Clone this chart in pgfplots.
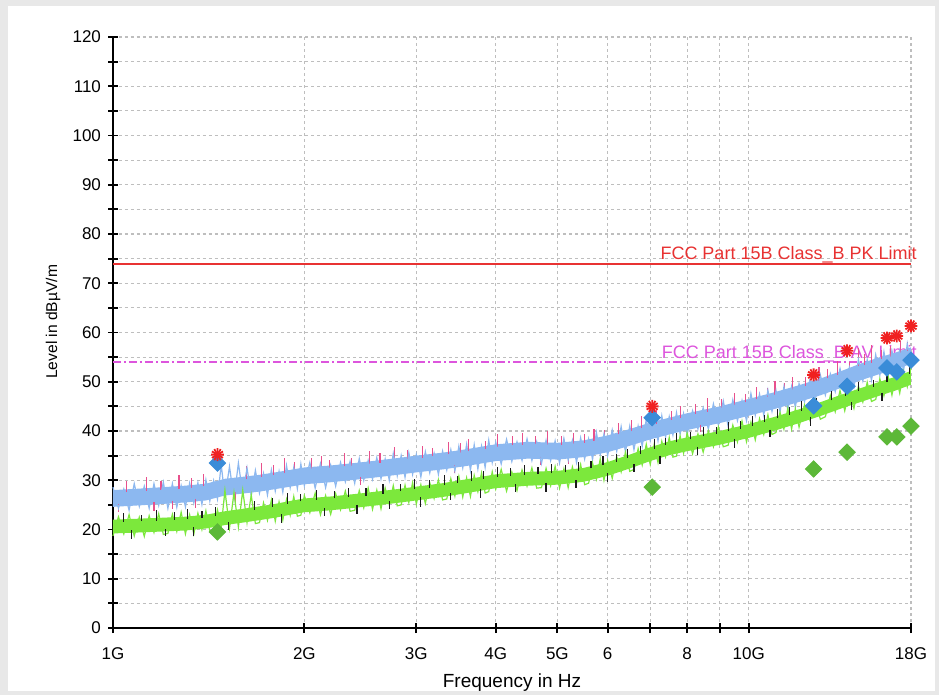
\documentclass[border=0pt]{standalone}
\usepackage{pgfplots}
\usepackage{pgfplotstable}
\pgfplotsset{compat=1.18}
\usepackage{fontspec}
\setmainfont{Liberation Sans}

\definecolor{pkred}{HTML}{E83232}
\definecolor{avmag}{HTML}{DD55DD}
\definecolor{bandblue}{HTML}{8CB8F0}
\definecolor{pinkpk}{HTML}{E8508C}
\definecolor{bandgreen}{HTML}{7CE83C}
\definecolor{spikeblack}{HTML}{1A1A1A}
\definecolor{diablue}{HTML}{3A8CD8}
\definecolor{diagreen}{HTML}{5CB838}
\definecolor{starred}{HTML}{F02020}
\definecolor{gridgray}{HTML}{BEBEBE}

% sweep: f [GHz], b = peak detector, g = average detector [dBuV/m]
\pgfplotstableread{
f b g
1.00 28.6 18.7
1.02 24.3 22.6
1.04 28.2 19.1
1.06 23.9 23.0
1.08 29.3 18.7
1.10 24.7 22.5
1.12 28.8 18.6
1.14 24.3 22.8
1.16 29.3 19.4
1.18 24.9 23.2
1.20 29.6 19.0
1.22 24.3 19.2
1.24 29.3 23.1
1.26 24.5 19.6
1.28 28.9 23.5
1.30 24.6 19.1
1.32 29.4 23.0
1.34 25.4 19.1
1.36 29.5 23.3
1.38 25.1 20.0
1.40 30.1 23.8
1.42 25.8 19.7
1.44 29.9 20.0
1.46 26.2 24.0
1.48 33.2 20.6
1.500 26.5 28.0
1.525 32.8 20.3
1.550 26.2 27.5
1.575 33.5 20.5
1.600 27.1 28.0
1.625 32.5 21.4
1.650 26.8 27.0
1.675 32.0 21.2
1.700 27.4 21.4
1.725 31.4 25.4
1.750 27.0 21.9
1.775 32.1 26.0
1.800 27.8 21.7
1.825 31.8 25.6
1.850 27.6 21.9
1.875 33.0 26.1
1.900 28.5 22.9
1.925 32.6 26.7
1.950 28.3 22.7
1.975 33.3 22.9
2.00 28.9 26.9
2.04 33.6 23.4
2.08 28.4 27.4
2.12 33.4 23.0
2.16 28.5 26.9
2.20 33.1 23.1
2.24 28.8 27.3
2.28 33.6 24.0
2.32 29.7 27.8
2.36 33.8 23.7
2.40 29.4 23.9
2.44 34.4 27.9
2.48 30.0 24.4
2.52 34.0 28.4
2.56 30.2 24.1
2.60 34.6 28.0
2.64 30.3 24.2
2.68 34.3 28.4
2.72 30.0 25.1
2.76 35.4 28.9
2.80 30.9 24.8
2.84 35.0 25.0
2.88 30.6 29.0
2.92 35.6 25.5
2.96 31.2 29.5
3.00 35.2 25.2
3.05 30.7 29.1
3.10 35.8 25.3
3.15 31.5 29.5
3.20 35.5 26.3
3.25 31.2 30.1
3.30 35.9 26.0
3.35 32.1 26.2
3.40 36.2 30.3
3.45 31.9 26.8
3.50 36.9 30.8
3.55 32.5 26.6
3.60 37.3 30.5
3.65 32.0 26.7
3.70 37.2 31.0
3.75 32.3 27.7
3.80 36.9 31.5
3.85 32.6 27.4
3.90 38.1 27.7
3.95 33.6 31.7
4.00 37.7 28.2
4.08 33.3 32.2
4.16 38.3 27.8
4.24 33.8 31.7
4.32 37.8 27.9
4.40 34.0 32.1
4.48 38.4 28.8
4.56 34.0 32.5
4.64 37.8 28.4
4.72 33.4 28.5
4.80 38.1 32.4
4.88 34.0 28.9
4.96 38.0 32.8
5.04 33.5 28.4
5.12 38.5 32.3
5.20 34.1 28.5
5.28 38.1 32.7
5.36 33.6 29.4
5.44 38.6 33.2
5.52 34.3 29.1
5.60 38.4 29.4
5.68 34.2 33.5
5.76 39.7 30.2
5.84 35.2 34.3
5.92 39.4 30.0
6.0 35.0 34.0
6.1 40.2 30.4
6.2 35.9 34.8
6.3 40.9 31.7
6.4 35.7 35.7
6.5 41.0 31.8
6.6 36.2 32.2
6.7 41.0 36.4
6.8 36.9 33.1
6.9 42.4 37.3
7.0 38.1 33.2
7.1 42.3 37.2
7.2 38.0 33.6
7.3 43.1 37.9
7.4 38.8 34.8
7.5 42.9 38.7
7.6 39.2 34.7
7.7 43.7 34.9
7.8 39.4 39.0
7.9 43.5 35.5
8.00 39.3 39.6
8.16 44.1 35.4
8.32 40.4 39.4
8.48 44.7 35.7
8.64 40.4 40.0
8.80 45.5 36.8
8.96 41.2 40.8
9.12 46.1 36.8
9.28 41.0 37.1
9.44 46.3 41.2
9.60 42.1 37.8
9.76 46.2 42.0
9.92 42.1 37.8
10.08 47.6 41.8
10.24 43.2 38.2
10.40 47.5 42.5
10.56 43.2 39.3
10.72 48.3 43.3
10.88 44.0 39.3
11.04 48.2 39.7
11.20 43.8 43.8
11.36 49.0 40.4
11.52 44.2 44.6
11.68 49.0 40.4
11.84 44.8 44.5
12.00 49.6 40.8
12.24 46.0 45.3
12.48 50.4 42.2
12.72 46.2 46.3
12.96 51.4 42.4
13.20 47.3 42.9
13.44 51.6 47.2
13.68 48.0 43.9
13.92 52.7 48.2
14.16 48.6 44.1
14.40 52.9 48.2
14.64 48.9 44.6
14.88 54.5 49.1
15.12 50.2 45.9
15.36 54.5 49.9
15.60 50.3 46.0
15.84 55.5 46.4
16.08 51.3 50.6
16.32 56.1 47.2
16.56 51.1 51.4
16.80 56.3 47.3
17.04 52.1 51.3
17.28 56.3 47.7
17.52 52.2 52.1
17.76 57.7 49.0
18.00 53.4 53.0
}\trace

% single peak-detector excursions above and below the band (segment pairs)
\pgfplotstableread{
f y
1.05 27.6
1.05 29.8
1.05 nan
1.13 27.9
1.13 30.6
1.13 nan
1.19 28.1
1.19 29.9
1.19 nan
1.27 28.3
1.27 31.0
1.27 nan
1.33 28.5
1.33 30.4
1.33 nan
1.39 28.8
1.39 31.2
1.39 nan
1.62 30.3
1.62 32.8
1.62 nan
1.71 30.7
1.71 33.5
1.71 nan
1.79 31.1
1.79 33.0
1.79 nan
1.86 31.4
1.86 34.6
1.86 nan
1.93 31.7
1.93 33.8
1.93 nan
2.05 32.2
2.05 34.5
2.05 nan
2.13 32.4
2.13 35.0
2.13 nan
2.19 32.5
2.19 34.2
2.19 nan
2.31 32.8
2.31 35.6
2.31 nan
2.37 32.9
2.37 34.6
2.37 nan
2.53 33.3
2.53 35.9
2.53 nan
2.63 33.6
2.63 35.5
2.63 nan
2.77 33.9
2.77 36.7
2.77 nan
2.91 34.3
2.91 36.2
2.91 nan
3.07 34.6
3.07 37.0
3.07 nan
3.18 34.9
3.18 36.6
3.18 nan
3.37 35.3
3.37 37.8
3.37 nan
3.52 35.6
3.52 37.5
3.52 nan
3.63 35.9
3.63 38.4
3.63 nan
3.86 36.4
3.86 38.0
3.86 nan
4.03 36.8
4.03 39.3
4.03 nan
4.25 37.1
4.25 38.9
4.25 nan
4.41 37.2
4.41 39.6
4.41 nan
4.62 37.3
4.62 39.0
4.62 nan
4.83 37.2
4.83 40.1
4.83 nan
5.07 37.2
5.07 38.9
5.07 nan
5.31 37.4
5.31 39.5
5.31 nan
5.52 37.6
5.52 39.3
5.52 nan
5.71 38.0
5.71 40.4
5.71 nan
5.93 38.5
5.93 40.2
5.93 nan
6.25 39.3
6.25 41.6
6.25 nan
6.55 40.0
6.55 42.3
6.55 nan
6.78 40.6
6.78 43.0
6.78 nan
7.15 41.5
7.15 44.2
7.15 nan
7.55 42.3
7.55 44.0
7.55 nan
7.80 42.7
7.80 45.1
7.80 nan
8.25 43.5
8.25 45.4
8.25 nan
8.60 43.9
8.60 46.6
8.60 nan
9.05 44.6
9.05 46.5
9.05 nan
9.50 45.2
9.50 47.8
9.50 nan
9.90 45.8
9.90 47.5
9.90 nan
10.3 46.4
10.3 49.0
10.3 nan
10.7 47.0
10.7 48.8
10.7 nan
11.0 47.4
11.0 50.2
11.0 nan
11.4 48.0
11.4 49.8
11.4 nan
11.7 48.4
11.7 50.9
11.7 nan
12.3 49.2
12.3 51.0
12.3 nan
12.9 50.1
12.9 52.9
12.9 nan
13.3 50.7
13.3 52.6
13.3 nan
13.8 51.4
13.8 54.2
13.8 nan
14.4 52.3
14.4 54.0
14.4 nan
14.9 53.1
14.9 56.8
14.9 nan
15.2 53.4
15.2 55.6
15.2 nan
15.6 53.9
15.6 57.5
15.6 nan
16.2 54.6
16.2 56.5
16.2 nan
16.7 55.1
16.7 57.3
16.7 nan
17.3 55.7
17.3 58.2
17.3 nan
17.8 56.3
17.8 58.0
17.8 nan
1.02 25.2
1.02 23.6
1.02 nan
1.16 25.6
1.16 23.8
1.16 nan
1.24 25.8
1.24 24.2
1.24 nan
1.35 26.2
1.35 24.4
1.35 nan
1.56 27.6
1.56 25.0
1.56 nan
2.45 30.7
2.45 29.0
2.45 nan
3.45 33.1
3.45 31.5
3.45 nan
4.70 34.8
4.70 33.0
4.70 nan
5.20 34.9
5.20 33.2
5.20 nan
8.40 41.3
8.40 39.8
}\pkspikes

% single average-detector excursions (segment pairs)
\pgfplotstableread{
f y
1.04 21.6
1.04 23.4
1.04 nan
1.11 21.7
1.11 23.0
1.11 nan
1.17 21.8
1.17 23.9
1.17 nan
1.25 22.0
1.25 23.5
1.25 nan
1.31 22.1
1.31 24.2
1.31 nan
1.38 22.4
1.38 23.8
1.38 nan
1.45 22.8
1.45 24.5
1.45 nan
1.67 24.0
1.67 25.8
1.67 nan
1.78 24.6
1.78 26.3
1.78 nan
1.88 25.2
1.88 27.4
1.88 nan
1.97 25.7
1.97 27.2
1.97 nan
2.09 26.0
2.09 28.0
2.09 nan
2.23 26.3
2.23 27.8
2.23 nan
2.35 26.6
2.35 28.5
2.35 nan
2.50 26.9
2.50 28.4
2.50 nan
2.66 27.3
2.66 29.3
2.66 nan
2.83 27.8
2.83 29.3
2.83 nan
2.98 28.2
2.98 30.3
2.98 nan
3.15 28.5
3.15 30.0
3.15 nan
3.32 29.0
3.32 31.0
3.32 nan
3.48 29.4
3.48 30.8
3.48 nan
3.66 29.8
3.66 31.8
3.66 nan
3.83 30.3
3.83 31.8
3.83 nan
4.02 30.7
4.02 32.7
4.02 nan
4.22 30.9
4.22 32.4
4.22 nan
4.44 31.1
4.44 33.1
4.44 nan
4.66 31.3
4.66 32.7
4.66 nan
4.90 31.4
4.90 33.3
4.90 nan
5.15 31.6
5.15 33.0
5.15 nan
5.40 31.9
5.40 33.8
5.40 nan
5.65 32.4
5.65 33.9
5.65 nan
5.90 33.0
5.90 35.0
5.90 nan
6.20 33.8
6.20 35.3
6.20 nan
6.45 34.5
6.45 36.4
6.45 nan
6.75 35.4
6.75 36.9
6.75 nan
7.10 36.4
7.10 38.4
7.10 nan
7.40 37.2
7.40 38.6
7.40 nan
7.70 37.7
7.70 39.6
7.70 nan
8.10 38.3
8.10 39.8
8.10 nan
8.50 38.9
8.50 40.8
8.50 nan
8.90 39.4
8.90 40.9
8.90 nan
9.30 39.9
9.30 41.9
9.30 nan
9.70 40.5
9.70 42.0
9.70 nan
10.15 41.1
10.15 43.0
10.15 nan
10.6 41.8
10.6 43.3
10.6 nan
11.1 42.6
11.1 44.5
11.1 nan
11.6 43.3
11.6 44.8
11.6 nan
12.1 44.1
12.1 46.0
12.1 nan
12.8 45.1
12.8 46.6
12.8 nan
13.5 46.2
13.5 48.1
13.5 nan
14.2 47.2
14.2 48.6
14.2 nan
14.9 48.1
14.9 50.0
14.9 nan
15.7 49.0
15.7 50.4
15.7 nan
16.5 50.0
16.5 51.9
16.5 nan
17.2 50.7
17.2 52.2
17.2 nan
17.9 51.6
17.9 53.4
17.9 nan
1.07 19.8
1.07 18.0
1.07 nan
1.21 20.1
1.21 18.6
1.21 nan
1.34 20.5
1.34 18.6
1.34 nan
1.52 21.5
1.52 19.9
1.52 nan
1.84 23.1
1.84 21.3
1.84 nan
2.15 24.3
2.15 22.7
2.15 nan
2.42 25.0
2.42 23.1
2.42 nan
2.72 25.7
2.72 24.2
2.72 nan
3.05 26.5
3.05 24.6
3.05 nan
3.40 27.4
3.40 25.9
3.40 nan
3.78 28.3
3.78 26.4
3.78 nan
4.30 29.2
4.30 27.6
4.30 nan
4.80 29.5
4.80 27.7
4.80 nan
5.35 30.0
5.35 28.4
5.35 nan
6.00 31.4
6.00 29.6
6.00 nan
6.60 33.2
6.60 31.6
6.60 nan
7.25 35.0
7.25 33.2
7.25 nan
8.30 36.8
8.30 35.2
8.30 nan
9.50 38.4
9.50 36.6
9.50 nan
10.8 40.3
10.8 38.7
10.8 nan
12.5 42.9
12.5 41.0
12.5 nan
14.5 45.8
14.5 44.2
14.5 nan
16.2 47.8
16.2 46.0
}\avspikes

% final measurements: frequency [GHz], level [dBuV/m]
\pgfplotstableread{
f y
1.46 35.2
7.05 45.0
12.65 51.4
14.28 56.3
16.50 58.9
17.10 59.3
18.00 61.3
}\finalmax
\pgfplotstableread{
f y
1.46 33.5
7.05 42.7
12.65 45.1
14.28 49.1
16.50 52.8
17.10 52.0
18.00 54.4
}\finalpk
\pgfplotstableread{
f y
1.46 19.5
7.05 28.6
12.65 32.3
14.28 35.7
16.50 38.8
17.10 38.8
18.00 41.0
}\finalav

\begin{document}
\begin{tikzpicture}
\fill[black!9] (0,0) rectangle (469.5pt,347.5pt);
\fill[white] (4pt,2pt) rectangle (467.5pt,344.5pt);
\begin{axis}[
  at={(56.5pt,33.5pt)}, anchor=south west,
  scale only axis, width=399pt, height=295.5pt,
  xmode=log, xmin=1, xmax=18, ymin=0, ymax=120,
  clip=false,
  unbounded coords=jump,
  xtick={1,2,3,4,5,6,7,8,9,10,18},
  xticklabels={1G,2G,3G,4G,5G,6,,8,,10G,18G},
  minor xtick={},
  ytick={0,10,...,120},
  minor ytick={5,15,...,115},
  grid=both,
  major grid style={gridgray, line width=0.6pt, dash pattern=on 1.5pt off 1.5pt},
  minor grid style={gridgray, line width=0.6pt, dash pattern=on 1.5pt off 1.5pt},
  axis x line*=bottom, axis y line*=left,
  axis line style={line width=0.9pt, -},
  tick align=center,
  major tick length=5pt, minor tick length=5pt,
  every tick/.style={black, line width=0.9pt},
  /pgf/number format/assume math mode=true,
  tick label style={font=\fontsize{8.5}{10}\selectfont},
  xticklabel style={yshift=-4pt},
  yticklabel style={xshift=0pt},
  xlabel={Frequency in Hz},
  ylabel={Level in dBµV/m},
  xlabel style={font=\fontsize{9.5}{11}\selectfont, at={(axis description cs:0.5,0)}, anchor=center, yshift=-27.5pt},
  ylabel style={font=\fontsize{7.8}{9}\selectfont, at={(axis description cs:-0.0752,0.518)}, anchor=center},
]

% limit lines
\addplot[pkred, line width=1pt] coordinates {(1,74) (18,74)};
\addplot[avmag, line width=0.8pt, dash pattern=on 4pt off 1.5pt on 1pt off 1.5pt] coordinates {(1,54) (18,54)};
\node[anchor=base east, inner sep=0pt, text=pkred, font=\fontsize{9}{10}\selectfont]
  at (axis cs:18,74) [xshift=3pt, yshift=2pt] {FCC Part 15B Class\_B PK Limit};
\node[anchor=base east, inner sep=0pt, text=avmag, font=\fontsize{9}{10}\selectfont]
  at (axis cs:18,54) [xshift=3pt, yshift=2pt] {FCC Part 15B Class\_B AV Limit};

% peak detector: band body, excursions, sweep
\addplot[fill=bandblue, draw=none] coordinates {
 (1.0,28.0) (1.1,28.3) (1.2,28.6) (1.3,28.9) (1.4,29.3) (1.5,30.3) (1.6,30.7)
 (1.7,31.1) (1.8,31.6) (1.9,32.1) (2.0,32.6) (2.2,33.0) (2.4,33.5) (2.6,34.0)
 (2.8,34.5) (3.0,35.0) (3.3,35.6) (3.6,36.3) (4.0,37.3) (4.5,37.8) (5.0,37.6)
 (5.5,38.1) (6.0,39.1) (6.5,40.4) (7.0,41.7) (7.5,42.7) (8.0,43.6) (9.0,45.0)
 (10,46.5) (11,47.9) (12,49.3) (13,50.7) (14,52.2) (15,53.7) (16,54.9) (17,55.9) (18,57.0)
 (18,53.6) (17,52.5) (16,51.5) (15,50.3) (14,48.8) (13,47.3) (12,45.9) (11,44.5)
 (10,43.1) (9.0,41.6) (8.0,40.2) (7.5,39.3) (7.0,38.3) (6.5,37.0) (6.0,35.7)
 (5.5,34.7) (5.0,34.2) (4.5,34.4) (4.0,33.9) (3.6,32.9) (3.3,32.2) (3.0,31.6)
 (2.8,31.1) (2.6,30.6) (2.4,30.1) (2.2,29.6) (2.0,29.2) (1.9,28.7) (1.8,28.2)
 (1.7,27.7) (1.6,27.3) (1.5,26.9) (1.4,25.9) (1.3,25.5) (1.2,25.2) (1.1,24.9) (1.0,24.6)
} -- cycle;
\addplot[pinkpk, line width=0.55pt] table[x=f, y=y] {\pkspikes};
\addplot[bandblue, line width=0.6pt] table[x=f, y=b] {\trace};

% average detector: band body, excursions, sweep
\addplot[fill=bandgreen, draw=none] coordinates {
 (1.0,22.0) (1.1,22.2) (1.2,22.4) (1.3,22.6) (1.4,23.0) (1.5,23.7) (1.6,24.2)
 (1.7,24.7) (1.8,25.2) (1.9,25.8) (2.0,26.3) (2.2,26.7) (2.4,27.2) (2.6,27.7)
 (2.8,28.2) (3.0,28.7) (3.3,29.4) (3.6,30.2) (4.0,31.2) (4.5,31.7) (5.0,31.9)
 (5.5,32.5) (6.0,33.7) (6.5,35.2) (7.0,36.7) (7.5,37.9) (8.0,38.7) (9.0,40.0)
 (10,41.4) (11,42.9) (12,44.4) (13,45.9) (14,47.4) (15,48.7) (16,49.9) (17,51.0) (18,52.2)
 (18,49.4) (17,48.2) (16,47.1) (15,45.9) (14,44.6) (13,43.1) (12,41.6) (11,40.1)
 (10,38.6) (9.0,37.2) (8.0,35.9) (7.5,35.1) (7.0,33.9) (6.5,32.4) (6.0,30.9)
 (5.5,29.7) (5.0,29.1) (4.5,28.9) (4.0,28.4) (3.6,27.4) (3.3,26.6) (3.0,25.9)
 (2.8,25.4) (2.6,24.9) (2.4,24.4) (2.2,23.9) (2.0,23.5) (1.9,23.0) (1.8,22.4)
 (1.7,21.9) (1.6,21.4) (1.5,20.9) (1.4,20.2) (1.3,19.8) (1.2,19.6) (1.1,19.4) (1.0,19.2)
} -- cycle;
\addplot[bandgreen, line width=0.6pt] table[x=f, y=g] {\trace};
\addplot[spikeblack, line width=0.6pt] table[x=f, y=y] {\avspikes};

% final measurement points
\addplot[only marks, mark=square*, mark size=2.9pt,
  mark options={rotate=45, fill=diagreen, draw=diagreen}] table[x=f, y=y] {\finalav};
\addplot[only marks, mark=square*, mark size=2.9pt,
  mark options={rotate=45, fill=diablue, draw=diablue}] table[x=f, y=y] {\finalpk};
\addplot[only marks, mark=asterisk, mark size=3.2pt,
  mark options={starred, line width=0.9pt}] table[x=f, y=y] {\finalmax};
\addplot[only marks, mark=asterisk, mark size=3.2pt,
  mark options={starred, line width=0.9pt, rotate=30}] table[x=f, y=y] {\finalmax};
\end{axis}
\end{tikzpicture}
\end{document}
